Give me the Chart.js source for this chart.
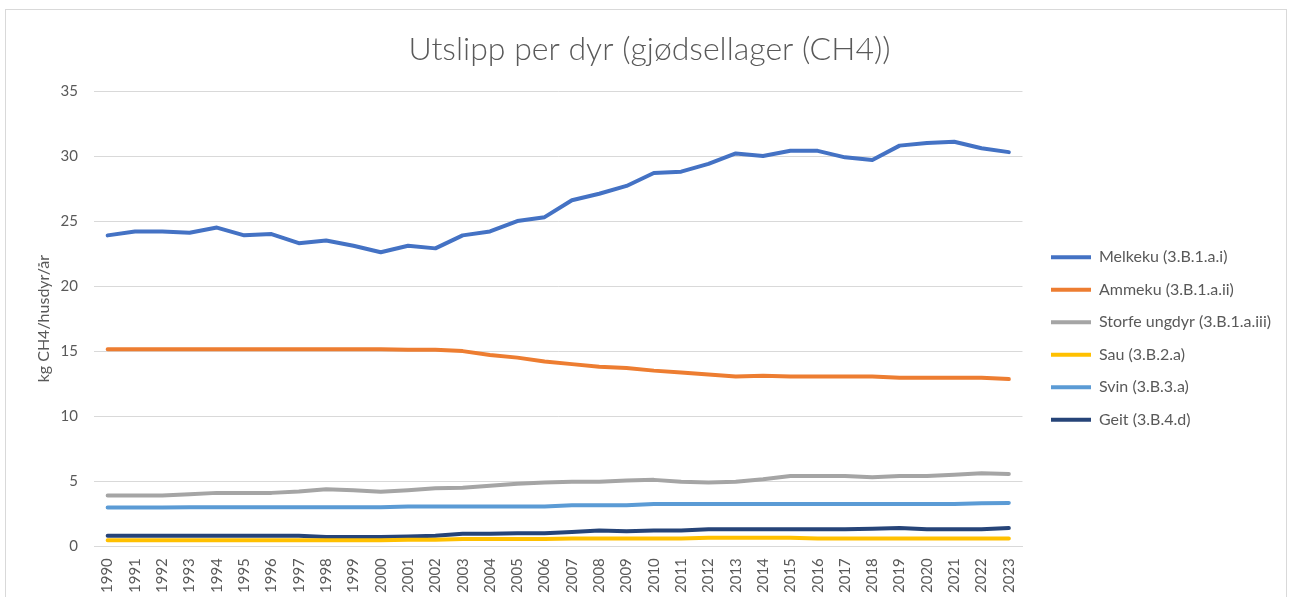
<!DOCTYPE html>
<html>
<head>
<meta charset="utf-8">
<script src="https://cdn.jsdelivr.net/npm/chart.js@4/dist/chart.umd.min.js"></script>
<style>
  html, body { margin: 0; padding: 0; background: #fff; }
  #frame { position: absolute; left: 5px; top: 9px; width: 1282px; height: 620px; border: 1px solid #d9d9d9; box-sizing: border-box; }
  #wrap { position: absolute; left: 0; top: 0; width: 1293px; height: 597px; }
</style>
</head>
<body>
<div id="frame"></div>
<div id="wrap"><canvas id="chart"></canvas></div>
<script>
// Utslipp per dyr, kg CH4 per husdyr per år
const YEARS = ["1990","1991","1992","1993","1994","1995","1996","1997","1998","1999","2000","2001","2002","2003","2004","2005","2006","2007","2008","2009","2010","2011","2012","2013","2014","2015","2016","2017","2018","2019","2020","2021","2022","2023"];

const MELKEKU = [23.9,24.2,24.2,24.1,24.5,23.9,24.0,23.3,23.5,23.1,22.6,23.1,22.9,23.9,24.2,25.0,25.3,26.6,27.1,27.7,28.7,28.8,29.4,30.2,30.0,30.4,30.4,29.9,29.7,30.8,31.0,31.1,30.6,30.3];
const AMMEKU  = [15.15,15.15,15.15,15.15,15.15,15.15,15.15,15.15,15.15,15.15,15.15,15.1,15.1,15.0,14.7,14.5,14.2,14.0,13.8,13.7,13.5,13.35,13.2,13.05,13.1,13.05,13.05,13.05,13.05,12.95,12.95,12.95,12.95,12.85];
const STORFE  = [3.9,3.9,3.9,4.0,4.1,4.1,4.1,4.2,4.38,4.3,4.18,4.3,4.45,4.5,4.65,4.8,4.9,4.95,4.95,5.05,5.1,4.95,4.9,4.95,5.15,5.4,5.4,5.4,5.3,5.4,5.4,5.5,5.6,5.55];
const SAU     = [0.45,0.45,0.45,0.45,0.45,0.45,0.45,0.45,0.45,0.45,0.45,0.5,0.5,0.55,0.55,0.55,0.55,0.6,0.6,0.6,0.6,0.6,0.65,0.65,0.65,0.65,0.6,0.6,0.6,0.6,0.6,0.6,0.6,0.6];
const SVIN    = [2.97,2.97,2.97,3.0,3.0,3.0,3.0,3.0,3.0,3.0,3.0,3.05,3.05,3.05,3.05,3.05,3.05,3.15,3.15,3.15,3.25,3.25,3.25,3.25,3.25,3.25,3.25,3.25,3.25,3.25,3.25,3.25,3.3,3.33];
const GEIT    = [0.8,0.8,0.8,0.8,0.8,0.8,0.8,0.8,0.7,0.7,0.7,0.75,0.8,0.95,0.95,1.0,1.0,1.1,1.2,1.15,1.2,1.2,1.3,1.3,1.3,1.3,1.3,1.3,1.35,1.4,1.3,1.3,1.3,1.4];

const SERIES = [
  { label: "Melkeku (3.B.1.a.i)",        data: MELKEKU, color: "#4472c4" },
  { label: "Ammeku (3.B.1.a.ii)",        data: AMMEKU,  color: "#ed7d31" },
  { label: "Storfe ungdyr (3.B.1.a.iii)", data: STORFE,  color: "#a5a5a5" },
  { label: "Sau (3.B.2.a)",              data: SAU,     color: "#ffc000" },
  { label: "Svin (3.B.3.a)",             data: SVIN,    color: "#5b9bd5" },
  { label: "Geit (3.B.4.d)",             data: GEIT,    color: "#264478" },
];

const FONT = "Lato, 'Open Sans', sans-serif";
const GREY = "#595959";

// flytter legenden litt ned og til høyre, som i Excel
const legendShift = {
  id: "legendShift",
  afterLayout(chart) {
    const l = chart.legend;
    l.left += 12; l.right += 12;
    l.top += 35; l.bottom += 35;
  },
};

new Chart(document.getElementById("chart"), {
  type: "line",
  data: {
    labels: YEARS,
    datasets: SERIES.map(s => ({
      label: s.label, data: s.data,
      borderColor: s.color, backgroundColor: s.color,
      borderWidth: 4, pointRadius: 0, tension: 0,
      borderCapStyle: "round", borderJoinStyle: "round",
    })),
  },
  options: {
    responsive: true, maintainAspectRatio: false, animation: false,
    layout: { padding: { left: 30, right: 24, top: 10, bottom: 0 } },
    plugins: {
      title: {
        display: true, text: "Utslipp per dyr (gjødsellager (CH4))",
        color: GREY, font: { family: FONT, size: 32, weight: "300" },
        padding: { top: 20, bottom: 22.6 },
      },
      legend: {
        position: "right",
        labels: {
          color: GREY, font: { family: FONT, size: 16 },
          usePointStyle: true, pointStyle: "line", pointStyleWidth: 40,
          padding: 16.5,
        },
      },
      tooltip: { enabled: false },
    },
    scales: {
      x: {
        offset: true,
        grid: { display: false },
        border: { color: "#d9d9d9" },
        ticks: { color: GREY, font: { family: FONT, size: 15 }, minRotation: 90, maxRotation: 90, autoSkip: false, padding: 4 },
      },
      y: {
        min: 0, max: 35,
        afterFit(scale) { scale.width = 64; },
        grid: { color: "#d9d9d9", drawTicks: false },
        border: { display: false },
        ticks: { stepSize: 5, color: GREY, font: { family: FONT, size: 15 }, padding: 16 },
        title: {
          display: true, text: "kg CH4/husdyr/år",
          color: GREY, font: { family: FONT, size: 16 },
          padding: { top: 4, bottom: 4 },
        },
      },
    },
  },
  plugins: [legendShift],
});
</script>
</body>
</html>
